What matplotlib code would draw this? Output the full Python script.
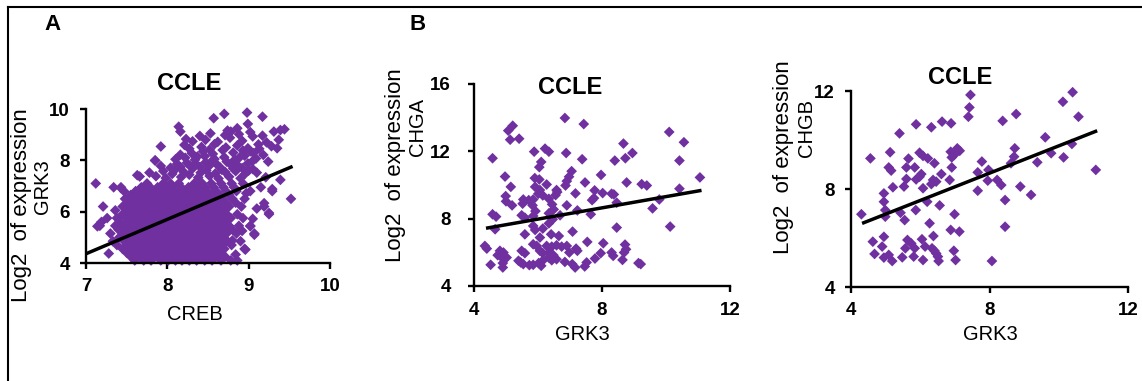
import matplotlib
matplotlib.use("Agg")
import matplotlib.pyplot as plt
from matplotlib.lines import Line2D
import numpy as np

plt.rcParams['font.family'] = ['Liberation Sans', 'DejaVu Sans']

W, H = 1142, 381
PURPLE = '#7030A0'

# ---------------- Panel A: CCLE, CREB vs GRK3 ----------------
# dense core: one y-level per row with the x positions read along it
a_core_y = [4.10, 4.25, 4.40, 4.55, 4.70, 4.85, 5.00, 5.15, 5.30, 5.45, 5.60,
            5.75, 5.90, 6.05, 6.20, 6.35, 6.50, 6.65, 6.80, 6.95, 7.10]
a_core_x = [
    [7.60, 7.71, 7.80, 7.92, 8.01, 8.10, 8.18, 8.27, 8.36, 8.46, 8.55, 8.66, 8.78, 8.86],
    [7.55, 7.66, 7.76, 7.86, 7.97, 8.06, 8.14, 8.23, 8.31, 8.41, 8.50, 8.60, 8.71],
    [7.50, 7.62, 7.71, 7.82, 7.90, 8.01, 8.10, 8.19, 8.28, 8.37, 8.47, 8.56, 8.66],
    [7.45, 7.57, 7.67, 7.77, 7.86, 7.96, 8.05, 8.15, 8.24, 8.33, 8.42, 8.51, 8.61, 8.70, 8.95],
    [7.38, 7.52, 7.63, 7.72, 7.82, 7.91, 8.01, 8.10, 8.20, 8.29, 8.38, 8.47, 8.57, 8.68, 8.79],
    [7.33, 7.47, 7.58, 7.68, 7.77, 7.87, 7.96, 8.06, 8.15, 8.24, 8.34, 8.43, 8.53, 8.63, 8.74, 8.90],
    [7.41, 7.53, 7.63, 7.73, 7.82, 7.92, 8.02, 8.11, 8.20, 8.30, 8.39, 8.49, 8.58, 8.68],
    [7.30, 7.46, 7.58, 7.69, 7.78, 7.88, 7.97, 8.07, 8.16, 8.25, 8.35, 8.44, 8.54, 8.64, 8.73, 8.85, 9.07],
    [7.40, 7.52, 7.64, 7.73, 7.83, 7.93, 8.02, 8.12, 8.21, 8.30, 8.40, 8.49, 8.59, 8.69, 8.80],
    [7.17, 7.36, 7.47, 7.59, 7.69, 7.79, 7.88, 7.98, 8.07, 8.17, 8.26, 8.36, 8.45, 8.55, 8.65, 8.76, 8.88, 9.02],
    [7.19, 7.42, 7.54, 7.64, 7.74, 7.84, 7.93, 8.03, 8.12, 8.22, 8.31, 8.41, 8.51, 8.60, 8.71],
    [7.26, 7.38, 7.50, 7.60, 7.70, 7.80, 7.89, 7.99, 8.08, 8.18, 8.27, 8.37, 8.46, 8.56, 8.66, 8.78, 8.93],
    [7.45, 7.56, 7.66, 7.76, 7.85, 7.95, 8.04, 8.14, 8.23, 8.33, 8.42, 8.52, 8.62, 8.73, 8.86, 9.25],
    [7.36, 7.51, 7.62, 7.72, 7.81, 7.91, 8.00, 8.10, 8.19, 8.29, 8.38, 8.48, 8.58, 8.69],
    [7.21, 7.45, 7.57, 7.68, 7.77, 7.87, 7.96, 8.06, 8.15, 8.25, 8.34, 8.44, 8.54, 8.65, 8.76, 8.91, 9.19],
    [7.52, 7.63, 7.73, 7.83, 7.92, 8.02, 8.11, 8.21, 8.30, 8.40, 8.50, 8.61, 8.72, 8.84],
    [7.48, 7.59, 7.69, 7.79, 7.88, 7.98, 8.07, 8.17, 8.26, 8.36, 8.46, 8.57, 8.68, 8.80, 8.95, 9.52],
    [7.55, 7.65, 7.75, 7.85, 7.94, 8.04, 8.13, 8.23, 8.32, 8.42, 8.53, 8.64, 8.76],
    [7.61, 7.72, 7.82, 7.91, 8.01, 8.10, 8.20, 8.29, 8.39, 8.49, 8.60, 8.72, 8.85, 9.02, 9.29],
    [7.34, 7.43, 7.68, 7.79, 7.88, 7.98, 8.07, 8.17, 8.26, 8.36, 8.46, 8.57, 8.69, 8.82, 9.15],
    [7.12, 7.75, 7.95, 8.04, 8.14, 8.33, 8.43, 8.54, 8.66, 8.79, 8.93],
]
# scattered points above the core and at the fringes
a_sparse = [
    (7.63, 7.42), (7.66, 7.37), (7.78, 7.52), (7.86, 7.38), (7.95, 7.58), (7.98, 7.31),
    (8.06, 7.47), (8.09, 7.62), (8.17, 7.35), (8.20, 7.55), (8.27, 7.44), (8.31, 7.68),
    (8.38, 7.33), (8.41, 7.52), (8.48, 7.61), (8.52, 7.39), (8.59, 7.49), (8.63, 7.29),
    (8.65, 7.72), (8.71, 7.55), (8.76, 7.36), (8.78, 7.83), (8.84, 7.58), (8.90, 7.30),
    (8.92, 7.70), (8.96, 7.49), (9.05, 7.66), (9.10, 7.52), (9.21, 7.34), (9.39, 7.24),
    (7.92, 7.78), (8.04, 7.71), (8.12, 7.86), (8.16, 7.74), (8.24, 7.90), (8.28, 7.79),
    (8.35, 7.86), (8.40, 7.75), (8.47, 7.92), (8.52, 7.80), (8.60, 7.87), (8.73, 7.95),
    (8.86, 7.82), (8.99, 7.88), (9.05, 7.98), (9.24, 7.95),
    (7.85, 8.00), (8.10, 8.04), (8.22, 8.10), (8.34, 8.02), (8.46, 8.16), (8.58, 8.05),
    (8.70, 8.12), (8.83, 8.03), (8.95, 8.18), (9.09, 8.07), (9.18, 8.21),
    (8.16, 8.22), (8.30, 8.28), (8.44, 8.35), (8.56, 8.25), (8.68, 8.40), (8.81, 8.30),
    (8.93, 8.38), (9.06, 8.28), (9.13, 8.45), (9.35, 8.47),
    (7.92, 8.54), (8.21, 8.60), (8.27, 8.45), (8.42, 8.52), (8.58, 8.63), (8.72, 8.50),
    (8.86, 8.58), (8.99, 8.47), (9.12, 8.62), (9.28, 8.55), (9.37, 8.80),
    (8.23, 8.83), (8.31, 8.74), (8.47, 8.80), (8.62, 8.72), (8.77, 8.88), (8.92, 8.76),
    (9.05, 8.93), (9.22, 8.70),
    (8.16, 9.12), (8.40, 8.95), (8.53, 9.05), (8.71, 8.98), (8.74, 9.16), (8.78, 9.12),
    (8.88, 9.02), (9.02, 9.10), (9.17, 8.96), (9.31, 9.12), (9.39, 9.18), (9.44, 9.21),
    (8.14, 9.31), (8.99, 9.42), (8.86, 9.25), (8.57, 9.64), (8.70, 9.81), (8.98, 9.86),
    (9.17, 9.70),
    (8.55, 7.98), (8.67, 7.63), (8.81, 7.68), (9.00, 7.60), (8.89, 8.12), (9.02, 8.35),
    (8.37, 8.15), (8.52, 8.42),
    (7.28, 4.37), (7.14, 5.43), (9.25, 5.95), (9.07, 5.10), (8.96, 4.52), (9.19, 6.33),
    (9.02, 5.43), (9.29, 6.88), (7.43, 6.92), (7.47, 6.79), (7.85, 7.99),
    (8.97, 6.72), (9.05, 5.72), (8.92, 5.25), (9.10, 6.12), (8.84, 4.33), (8.80, 4.88),
]
trend_a = (1.34, -5.02, 7.0, 9.54)   # slope, intercept, x from, x to

# ---------------- Panel B: CCLE, GRK3 vs CHGA ----------------
b_points = [
    (6.84, 13.98), (5.21, 13.52), (5.07, 13.23), (7.43, 13.62), (5.13, 12.69), (5.41, 12.75),
    (10.10, 13.15), (10.56, 12.54), (4.58, 11.59), (5.88, 11.98), (6.22, 12.16), (6.34, 11.98),
    (6.88, 11.90), (7.38, 11.53), (8.67, 12.46), (8.95, 11.90), (8.73, 11.59), (8.40, 11.45),
    (10.42, 11.45), (6.10, 11.37), (6.04, 11.06), (4.97, 10.50), (5.90, 10.41), (6.04, 10.33),
    (7.05, 10.82), (6.97, 10.49), (6.90, 10.23), (6.86, 9.97), (7.97, 10.60), (11.06, 10.45),
    (5.15, 9.89), (5.91, 9.89), (6.06, 9.70), (6.01, 9.48), (6.27, 10.03), (6.58, 9.70),
    (6.55, 9.40), (6.60, 9.58), (7.17, 9.50), (7.47, 10.15), (7.77, 9.68), (8.02, 9.52),
    (8.30, 9.48), (8.37, 9.44), (8.77, 10.15), (9.24, 10.05), (9.40, 9.97), (10.42, 9.78),
    (4.99, 9.34), (5.00, 9.03), (5.54, 9.14), (5.71, 9.10), (5.52, 8.89), (5.85, 9.14),
    (5.83, 8.79), (5.19, 8.79), (6.15, 9.38), (6.34, 9.18), (6.44, 8.85), (6.49, 8.55),
    (6.90, 8.79), (7.69, 9.10), (7.75, 9.22), (8.46, 8.95), (7.23, 8.49), (7.65, 8.26),
    (9.58, 8.61), (9.79, 9.14), (4.58, 8.26), (4.69, 8.12), (5.49, 8.20), (5.59, 8.06),
    (5.92, 8.45), (5.85, 8.16), (6.34, 8.32), (6.46, 7.96), (6.69, 8.20), (4.66, 7.37),
    (5.85, 7.57), (5.91, 7.33), (6.15, 7.41), (6.34, 7.72), (5.59, 7.07), (6.41, 7.07),
    (6.65, 6.97), (7.08, 7.23), (6.06, 6.88), (8.46, 7.47), (10.13, 7.53), (4.34, 6.38),
    (4.40, 6.22), (5.85, 6.48), (5.96, 6.38), (6.27, 6.38), (6.43, 6.34), (6.58, 6.42),
    (6.74, 6.34), (6.90, 6.38), (7.19, 6.22), (7.23, 6.09), (7.54, 6.62), (8.04, 6.54),
    (8.72, 6.46), (8.75, 6.18), (4.81, 6.09), (4.92, 5.99), (4.74, 5.83), (4.87, 5.69),
    (5.02, 5.69), (5.49, 6.09), (5.59, 5.95), (6.06, 6.09), (6.15, 5.95), (6.35, 5.99),
    (6.48, 5.83), (6.34, 5.69), (6.98, 5.99), (7.78, 5.63), (7.96, 5.95), (8.30, 5.99),
    (8.35, 5.79), (8.69, 5.99), (4.52, 5.26), (4.90, 5.36), (4.90, 5.10), (5.39, 5.50),
    (5.46, 5.40), (5.54, 5.30), (5.73, 5.24), (5.85, 5.26), (6.02, 5.36), (6.10, 5.20),
    (6.16, 5.53), (6.43, 5.53), (6.58, 5.59), (6.84, 5.43), (7.07, 5.30), (7.16, 5.10),
    (7.46, 5.16), (7.52, 5.40), (8.64, 5.55), (9.14, 5.36), (9.21, 5.30),
]
trend_b = (0.334, 5.97, 4.375, 11.11)

# ---------------- Panel C: CCLE, GRK3 vs CHGB ----------------
c_points = [
    (7.45, 11.84), (7.42, 11.33), (7.39, 10.95), (10.40, 11.95), (10.12, 11.56), (10.57, 10.95),
    (8.77, 11.06), (8.38, 10.78), (6.63, 10.75), (6.89, 10.68), (5.88, 10.64), (6.32, 10.52),
    (5.40, 10.27), (4.56, 9.25), (5.13, 9.50), (5.66, 9.24), (5.98, 9.48), (6.08, 9.35),
    (6.22, 9.25), (6.41, 9.05), (6.88, 9.52), (6.98, 9.39), (7.07, 9.66), (7.14, 9.56),
    (6.91, 9.29), (5.09, 8.88), (5.16, 8.75), (5.60, 8.88), (5.84, 8.88), (6.61, 8.61),
    (6.91, 8.88), (5.60, 8.41), (5.88, 8.39), (5.98, 8.50), (6.03, 8.61), (6.37, 8.37),
    (6.46, 8.30), (6.32, 8.20), (6.85, 8.37), (5.21, 8.07), (5.53, 8.10), (6.08, 8.03),
    (7.66, 8.68), (7.78, 9.12), (7.97, 8.78), (7.95, 8.34), (8.22, 8.37), (8.34, 8.16),
    (7.66, 7.93), (8.45, 7.55), (8.89, 8.10), (9.20, 7.76), (8.73, 9.66), (8.71, 9.32),
    (8.62, 9.05), (9.38, 9.09), (9.61, 10.11), (9.78, 9.46), (10.14, 9.29), (10.38, 9.84),
    (11.07, 8.78), (4.95, 7.82), (4.95, 7.48), (4.99, 7.14), (4.99, 6.87), (4.30, 6.97),
    (5.43, 7.03), (5.55, 6.73), (5.87, 7.14), (6.20, 7.48), (6.56, 7.33), (6.99, 6.97),
    (6.27, 6.60), (6.88, 6.33), (7.13, 6.26), (8.45, 6.46), (4.63, 5.85), (4.95, 6.05),
    (4.90, 5.65), (4.68, 5.35), (4.95, 5.20), (5.09, 5.31), (5.19, 5.06), (5.48, 5.21),
    (5.63, 5.92), (5.74, 5.78), (5.84, 5.58), (5.57, 5.58), (5.81, 5.24), (6.05, 5.95),
    (6.14, 5.65), (6.08, 5.10), (6.38, 6.08), (6.34, 5.58), (6.41, 5.48), (6.46, 5.37),
    (6.51, 5.24), (6.53, 5.06), (6.97, 5.48), (7.02, 5.10), (8.07, 5.06),
]
trend_c = (0.557, 4.19, 4.32, 11.11)

a_xticks = [7, 8, 9, 10]
a_yticks = [4, 6, 8, 10]
b_xticks = [4, 8, 12]
b_yticks = [4, 8, 12, 16]
c_xticks = [4, 8, 12]
c_yticks = [4, 8, 12]

# ------------------------------------------------------------
fig = plt.figure(figsize=(W / 100, H / 100), dpi=100)


def px_rect(x0, y0, x1, y1):
    return [x0 / W, 1 - y1 / H, (x1 - x0) / W, (y1 - y0) / H]


def fx(px):
    return px / W


def fy(py):
    return 1 - py / H


def make_panel(rect, xs, ys, trend, xlim, ylim, xticks, yticks, xpad, ypad):
    ax = fig.add_axes(rect)
    ax.scatter(xs, ys, marker='D', s=30, color=PURPLE, edgecolors='none',
               clip_on=False, zorder=2)
    slope, icpt, x0, x1 = trend
    lx = np.array([x0, x1])
    ax.plot(lx, slope * lx + icpt, color='black', lw=2.5, zorder=3,
            solid_capstyle='butt')
    ax.set_xlim(*xlim)
    ax.set_ylim(*ylim)
    ax.set_xticks(xticks)
    ax.set_yticks(yticks)
    for s in ['top', 'right']:
        ax.spines[s].set_visible(False)
    for s in ['left', 'bottom']:
        ax.spines[s].set_linewidth(1.7)
        ax.spines[s].set_color('black')
    ax.tick_params(axis='both', direction='out', length=4.5, width=1.7,
                   labelsize=13.5, colors='black')
    ax.tick_params(axis='x', pad=xpad)
    ax.tick_params(axis='y', pad=ypad)
    for lab in ax.get_xticklabels() + ax.get_yticklabels():
        lab.set_fontweight('bold')
    ax.patch.set_alpha(0)
    return ax


a_x = [x for row, y in zip(a_core_x, a_core_y) for x in row] + [p[0] for p in a_sparse]
a_y = [y for row, y in zip(a_core_x, a_core_y) for x in row] + [p[1] for p in a_sparse]
make_panel(px_rect(86, 109, 330, 263), a_x, a_y, trend_a, (7, 10), (4, 10),
           a_xticks, a_yticks, 6, 7)

b_x = [p[0] for p in b_points]
b_y = [p[1] for p in b_points]
make_panel(px_rect(474, 84, 730, 286), b_x, b_y, trend_b, (4, 12), (4, 16),
           b_xticks, b_yticks, 7, 12)

c_x = [p[0] for p in c_points]
c_y = [p[1] for p in c_points]
make_panel(px_rect(851, 91, 1128, 287), c_x, c_y, trend_c, (4, 12), (4, 12),
           c_xticks, c_yticks, 6.5, 7)

# titles
for (px, py) in [(189, 83), (570, 88), (960, 77)]:
    fig.text(fx(px), fy(py), 'CCLE', fontsize=17, fontweight='bold',
             ha='center', va='center')

# x labels
for (px, py, t) in [(195, 314, 'CREB'), (582, 335, 'GRK3'), (990, 335, 'GRK3')]:
    fig.text(fx(px), fy(py), t, fontsize=14.5, ha='center', va='center')

# y labels (two lines each)
for (px, py) in [(22, 205), (395, 165), (783, 157)]:
    fig.text(fx(px), fy(py), 'Log2  of expression', fontsize=16, rotation=90,
             ha='center', va='center')
for (px, py, t) in [(43, 187, 'GRK3'), (418, 127, 'CHGA'), (806, 128, 'CHGB')]:
    fig.text(fx(px), fy(py), t, fontsize=14.5, rotation=90,
             ha='center', va='center')

# panel letters
fig.text(fx(53), fy(25), 'A', fontsize=16, fontweight='bold', ha='center', va='center')
fig.text(fx(418), fy(25), 'B', fontsize=16, fontweight='bold', ha='center', va='center')

# frame lines (top and left)
fig.add_artist(Line2D([fx(8), 1.0], [fy(7), fy(7)], color='black', lw=1.5))
fig.add_artist(Line2D([fx(8), fx(8)], [fy(7), 0.0], color='black', lw=1.5))

fig.savefig('out.png', dpi=100)
